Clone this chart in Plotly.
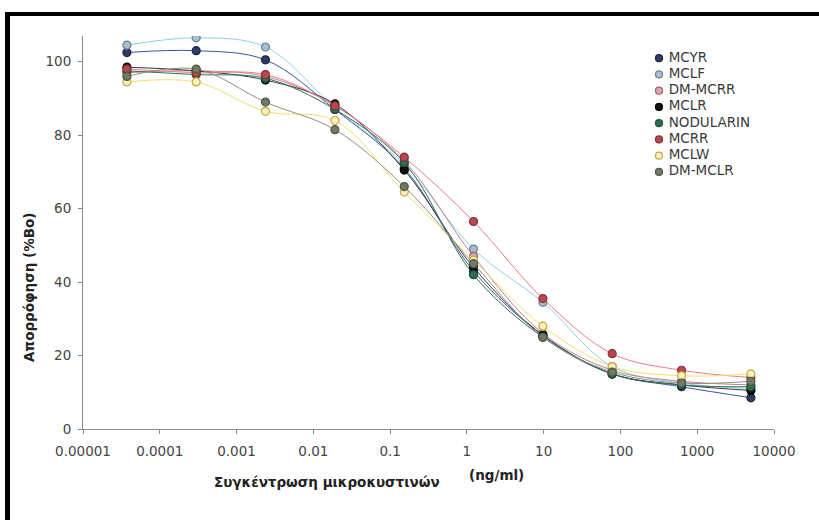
import plotly.graph_objects as go

# Concentrations (ng/ml): 8-fold dilution series from 5000
conc = [0.0000373, 0.000298, 0.00238, 0.0191, 0.153, 1.22, 9.77, 78.1, 625, 5000]

names = ["MCYR", "MCLF", "DM-MCRR", "MCLR", "NODULARIN", "MCRR", "MCLW", "DM-MCLR"]

mcyr = [102.5, 103, 100.5, 87, 71, 43, 25.5, 15, 11.5, 8.5]
mclf = [104.5, 106.5, 104, 87.5, 72, 49, 34.5, 17, 12.5, 11]
dm_mcrr = [97, 97.5, 96, 88, 73, 47, 26, 16, 13, 12]
mclr = [98.5, 97.5, 95, 88.5, 70.5, 44, 25.5, 15, 12, 10.5]
nodularin = [97.5, 96.5, 95.5, 87, 72.5, 42, 25, 15, 12, 11.5]
mcrr = [98, 97, 96.5, 88, 74, 56.5, 35.5, 20.5, 16, 14]
mclw = [94.5, 94.5, 86.5, 84, 64.5, 46, 28, 17, 14.5, 15]
dm_mclr = [96, 98, 89, 81.5, 66, 45, 25, 15.5, 12.5, 13]

series = [mcyr, mclf, dm_mcrr, mclr, nodularin, mcrr, mclw, dm_mclr]

x_tickvals = [0.00001, 0.0001, 0.001, 0.01, 0.1, 1, 10, 100, 1000, 10000]
x_ticktext = ["0.00001", "0.0001", "0.001", "0.01", "0.1", "1", "10", "100", "1000", "10000"]
y_tickvals = [0, 20, 40, 60, 80, 100]

fills = ["#2f3d63", "#a9bfd0", "#d9a9ae", "#111111", "#2e6e55", "#b5494f", "#f8f0c0", "#707a64"]
edges = ["#1c2540", "#6a8090", "#9a6068", "#000000", "#1f4d3a", "#8a3035", "#c9a53a", "#4f5745"]
curves = ["#3a55a0", "#8fd0ea", "#c08090", "#3a3a3a", "#2e7050", "#f07a88", "#f0e070", "#909080"]

FONT = "DejaVu Sans, Verdana, sans-serif"

fig = go.Figure()
for nm, ys, fc, ec, lc in zip(names, series, fills, edges, curves):
    fig.add_trace(go.Scatter(
        x=conc, y=ys, name=nm, mode="lines+markers",
        line=dict(color=lc, width=1, shape="spline", smoothing=1.0),
        marker=dict(size=8, color=fc, line=dict(color=ec, width=1.2)),
        showlegend=False))

# legend drawn on its own small hidden subplot
fig.add_trace(go.Scatter(
    x=[0] * len(names), y=names, mode="markers+text",
    text=["&nbsp;" + n for n in names],
    textposition="middle right", cliponaxis=False,
    textfont=dict(family=FONT, size=13.5, color="#3a3a3a"),
    marker=dict(size=7, color=fills, line=dict(color=edges, width=1.2)),
    xaxis="x2", yaxis="y2", showlegend=False, hoverinfo="skip"))

axis_font = dict(family=FONT, size=13.5, color="#444444")

fig.update_layout(
    width=819, height=520,
    margin=dict(l=83, r=45, t=36, b=91),
    paper_bgcolor="white", plot_bgcolor="white",
    showlegend=False,
    xaxis=dict(type="log", range=[-5, 4], tickvals=x_tickvals, ticktext=x_ticktext,
               showgrid=False, zeroline=False, showline=True, linecolor="#8a8a8a", linewidth=1,
               ticks="outside", ticklen=4, tickcolor="#8a8a8a", tickfont=axis_font,
               ticklabelstandoff=6),
    yaxis=dict(range=[0, 107], tickvals=y_tickvals, showgrid=False, zeroline=False,
               showline=True, linecolor="#8a8a8a", linewidth=1,
               ticks="outside", ticklen=4, tickcolor="#8a8a8a", tickfont=axis_font,
               ticklabelstandoff=4),
    xaxis2=dict(domain=[(659 - 83) / 691, 1.0], range=[0, 1], visible=False, anchor="y2"),
    yaxis2=dict(domain=[(429 - 180) / 393, (429 - 50) / 393], type="category",
                range=[7.5, -0.5], visible=False, anchor="x2"),
)

pw, ph, l, t = 691, 393, 83, 36


def px(xp):
    return (xp - l) / pw


def py(yp):
    return 1 - (yp - t) / ph


title_font = dict(family=FONT, size=13.5, color="#222222")
fig.add_annotation(text="<b>Απορρόφηση (%Bo)</b>", x=px(29), y=py(288), xref="paper", yref="paper",
                   xanchor="center", yanchor="middle", showarrow=False, textangle=-90,
                   font=title_font)
fig.add_annotation(text="<b>Συγκέντρωση μικροκυστινών</b>", x=px(327), y=py(482),
                   xref="paper", yref="paper", xanchor="center", yanchor="middle",
                   showarrow=False, font=title_font)
fig.add_annotation(text="<b>(ng/ml)</b>", x=px(496), y=py(475), xref="paper", yref="paper",
                   xanchor="center", yanchor="middle", showarrow=False, font=title_font)

# black frame (top and left)
fig.add_shape(type="line", xref="paper", yref="paper",
              x0=px(5), x1=px(819), y0=py(14), y1=py(14),
              line=dict(color="black", width=4))
fig.add_shape(type="line", xref="paper", yref="paper",
              x0=px(7.5), x1=px(7.5), y0=py(12), y1=py(520),
              line=dict(color="black", width=5))

fig.write_html("out.html")
